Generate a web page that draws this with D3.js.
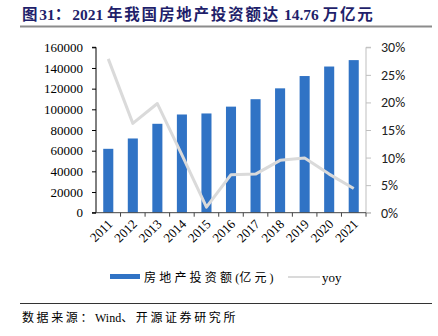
<!DOCTYPE html>
<html>
<head>
<meta charset="utf-8">
<script src="https://cdn.jsdelivr.net/npm/d3@7"></script>
<style>
  html, body { margin: 0; padding: 0; background: #fff; }
  svg { display: block; }
</style>
</head>
<body>
<svg id="chart" width="438" height="336"></svg>
<script>
// Annual real-estate investment (亿元) and its year-on-year growth
const years = ["2011","2012","2013","2014","2015","2016","2017","2018","2019","2020","2021"];
const investment = [61800, 71800, 86000, 95000, 96000, 102600, 109800, 120300, 132200, 141400, 147600];
const yoy = [0.279, 0.162, 0.198, 0.105, 0.010, 0.069, 0.070, 0.095, 0.099, 0.070, 0.044];
const leftTicks = [0, 20000, 40000, 60000, 80000, 100000, 120000, 140000, 160000];
const rightTicks = [0, 0.05, 0.10, 0.15, 0.20, 0.25, 0.30];

const titleText = "图31：2021 年我国房地产投资额达 14.76 万亿元";
const seriesNames = ["房地产投资额(亿元)", "yoy"];
const sourceText = "数据来源：Wind、开源证券研究所";

const serif = "'Liberation Serif', 'Noto Sans CJK SC', serif";
const sans = "Carlito, 'Liberation Sans', 'Noto Sans', sans-serif";

const svg = d3.select("#chart");
const plot = { left: 96, right: 366, top: 47.3, bottom: 212.7 };

// Writes a string, spacing out CJK glyphs more than Latin ones
function spacedText(sel, str, cjkSpacing) {
  const parts = str.match(/[\u3000-\u9fff\uff00-\uffef]+|[^\u3000-\u9fff\uff00-\uffef]+/g);
  parts.forEach(p => {
    const isCjk = /[\u3000-\u9fff\uff00-\uffef]/.test(p);
    sel.append("tspan")
      .attr("letter-spacing", isCjk ? cjkSpacing : 0)
      .text(p);
  });
}

// Title and header rule
const title = svg.append("text")
  .attr("x", 22).attr("y", 20)
  .attr("font-family", serif).attr("font-weight", "bold")
  .attr("font-size", 15.5).attr("fill", "#1f1f6b");
spacedText(title, titleText, 1.8);
svg.append("line")
  .attr("x1", 20).attr("x2", 432).attr("y1", 26.5).attr("y2", 26.5)
  .attr("stroke", "#8c8c8c").attr("stroke-width", 2);

// Scales
const x = d3.scaleBand().domain(years).range([plot.left, plot.right]).paddingInner(0).paddingOuter(0);
const yL = d3.scaleLinear().domain([0, 160000]).range([plot.bottom, plot.top]);
const yR = d3.scaleLinear().domain([0, 0.30]).range([plot.bottom, plot.top]);
const barW = x.bandwidth() * 0.41;

// Bars
svg.append("g").selectAll("rect")
  .data(investment)
  .join("rect")
  .attr("x", (d, i) => x(years[i]) + (x.bandwidth() - barW) / 2)
  .attr("y", d => yL(d))
  .attr("width", barW)
  .attr("height", d => plot.bottom - yL(d))
  .attr("fill", "#3073c5");

// YoY line
const line = d3.line()
  .x((d, i) => x(years[i]) + x.bandwidth() / 2)
  .y(d => yR(d));
svg.append("path")
  .datum(yoy)
  .attr("d", line)
  .attr("fill", "none")
  .attr("stroke", "#dadada")
  .attr("stroke-width", 3)
  .attr("stroke-linejoin", "round");

// Left axis
const gL = svg.append("g")
  .attr("transform", `translate(${plot.left},0)`)
  .call(d3.axisLeft(yL).tickValues(leftTicks).tickFormat(d3.format("d")).tickSize(4).tickPadding(9));
gL.select(".domain").attr("stroke", "#000").attr("d", `M-4,${plot.top}H0V${plot.bottom}H-4`);
gL.selectAll(".tick line").attr("stroke", "#000");
gL.selectAll(".tick text").attr("font-family", serif).attr("font-size", 13).attr("fill", "#000");

// Right axis
const gR = svg.append("g")
  .attr("transform", `translate(${plot.right},0)`)
  .call(d3.axisRight(yR).tickValues(rightTicks).tickFormat(d3.format(".0%")).tickSize(5).tickPadding(10));
gR.select(".domain").attr("stroke", "#bfbfbf").attr("d", `M5,${plot.top}H0V${plot.bottom}H5`);
gR.selectAll(".tick line").attr("stroke", "#bfbfbf");
gR.selectAll(".tick text").attr("font-family", sans).attr("font-size", 14).attr("fill", "#222");

// Bottom axis: ticks at category boundaries
const gB = svg.append("g")
  .attr("transform", `translate(0,${plot.bottom})`);
gB.append("line")
  .attr("x1", plot.left).attr("x2", plot.right)
  .attr("stroke", "#444").attr("stroke-width", 1);
gB.selectAll("line.tk")
  .data(years.slice(1).concat(["end"]))
  .join("line").attr("class", "tk")
  .attr("x1", (d, i) => plot.left + x.step() * (i + 1))
  .attr("x2", (d, i) => plot.left + x.step() * (i + 1))
  .attr("y1", 0).attr("y2", 4)
  .attr("stroke", "#444");
gB.selectAll("text")
  .data(years)
  .join("text")
  .attr("transform", d => `translate(${x(d) + x.bandwidth() / 2 + 3},${10}) rotate(-45)`)
  .attr("text-anchor", "end")
  .attr("dominant-baseline", "middle")
  .attr("font-family", serif).attr("font-size", 13).attr("fill", "#000")
  .text(d => d);

// Legend
const lg = svg.append("g");
lg.append("rect").attr("x", 110).attr("y", 274).attr("width", 30).attr("height", 5).attr("fill", "#3073c5");
const lgText = lg.append("text").attr("x", 144).attr("y", 281.5)
  .attr("font-family", serif).attr("font-size", 12).attr("fill", "#000");
spacedText(lgText, seriesNames[0], 3.2);
lg.append("line").attr("x1", 288).attr("x2", 320).attr("y1", 277).attr("y2", 277)
  .attr("stroke", "#dadada").attr("stroke-width", 2);
lg.append("text").attr("x", 322).attr("y", 281.5)
  .attr("font-family", serif).attr("font-size", 13).attr("fill", "#000").text(seriesNames[1]);

// Footer rule and source
svg.append("line")
  .attr("x1", 20).attr("x2", 432).attr("y1", 303.5).attr("y2", 303.5)
  .attr("stroke", "#333").attr("stroke-width", 1);
const src = svg.append("text")
  .attr("x", 22).attr("y", 322)
  .attr("font-family", serif).attr("font-size", 12).attr("fill", "#000");
spacedText(src, sourceText, 2.6);
</script>
</body>
</html>
